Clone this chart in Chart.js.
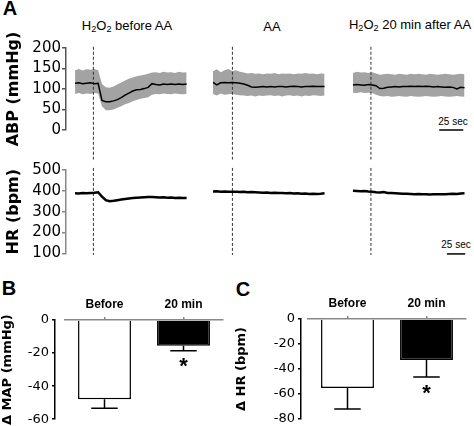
<!DOCTYPE html>
<html lang="en">
<head>
<meta charset="UTF-8">
<title>H2O2 responses before and after AA</title>
<script src="https://cdn.jsdelivr.net/npm/chart.js"></script>
<style>
    html, body { margin: 0; padding: 0; background: #fff; overflow: hidden; }
    body { width: 474px; height: 426px; position: relative; font-family: 'Liberation Sans', Arial, sans-serif; color: #000; }
    canvas { position: absolute; }
    .txt { position: absolute; line-height: 1; white-space: nowrap; transform: translate(-50%, -50%); }
    .letter { font-size: 20px; font-weight: bold; }
    .cond { font-size: 13px; }
    .sec { font-size: 10px; }
    sub { font-size: 70%; vertical-align: -0.3em; line-height: 0; }
</style>
</head>
<body>
    <div class="txt letter" style="left:10px; top:8px;">A</div>
    <div class="txt letter" style="left:9px; top:288px;">B</div>
    <div class="txt letter" style="left:243px; top:289px;">C</div>

    <div class="txt cond" style="left:127px; top:25px;">H<sub>2</sub>O<sub>2</sub> before AA</div>
    <div class="txt cond" style="left:272px; top:26px;">AA</div>
    <div class="txt cond" style="left:410px; top:24px;">H<sub>2</sub>O<sub>2</sub> 20 min after AA</div>

    <div class="txt sec" style="left:453px; top:122px;">25 sec</div>
    <div class="txt sec" style="left:456px; top:245px;">25 sec</div>

    <canvas id="abpChart" style="left:0; top:0;" width="474" height="165"></canvas>
    <canvas id="hrChart" style="left:0; top:160px;" width="474" height="115"></canvas>
    <canvas id="mapBar" style="left:0; top:270px;" width="234" height="160"></canvas>
    <canvas id="hrBar" style="left:234px; top:270px;" width="240" height="160"></canvas>

<script>
    // recording time: each trace segment starts at segStart (s), samples every 4 s
    const segStart = [9.4, 152.8, 298.3];
    const injectAt = [28.5, 173, 317];
    const relTime = [0, 4, 8, 12, 16, 20, 24, 28, 32, 36, 40, 44, 48, 52, 56, 60, 64, 68, 72, 76, 80, 84, 88, 92, 96, 100, 104, 108, 112, 116];

    // ABP (mmHg): mean trace and pulsatile envelope
    const abpMean1 = [114, 115, 113, 114, 115, 113, 114, 72, 69, 69, 71, 74, 79, 85, 90, 95, 98, 99, 101, 104, 113, 111, 110, 112, 111, 112, 111, 112, 111, 112];
    const abpHigh1 = [146, 149, 145, 148, 147, 149, 146, 112, 104, 103, 106, 111, 116, 121, 125, 128, 131, 133, 135, 137, 140, 141, 139, 142, 140, 141, 139, 142, 140, 141];
    const abpLow1 = [88, 90, 87, 89, 88, 90, 89, 58, 48, 48, 50, 54, 58, 63, 66, 70, 73, 76, 78, 80, 86, 88, 87, 89, 88, 87, 89, 88, 87, 88];

    const abpMean2 = [116, 110, 115, 116, 115, 116, 115, 114, 112, 109, 105, 104, 105, 106, 105, 106, 105, 106, 106, 105, 106, 107, 106, 105, 106, 106, 107, 106, 106, 106];
    const abpHigh2 = [143, 148, 141, 146, 149, 144, 146, 142, 140, 138, 139, 137, 138, 136, 138, 137, 139, 136, 138, 137, 138, 136, 138, 137, 139, 137, 138, 136, 138, 137];
    const abpLow2 = [88, 84, 89, 86, 87, 88, 86, 85, 84, 83, 84, 82, 84, 83, 84, 85, 83, 84, 82, 84, 85, 83, 84, 82, 84, 83, 85, 84, 83, 84];

    const abpMean3 = [110, 111, 110, 109, 111, 110, 108, 101, 102, 104, 105, 106, 105, 106, 106, 107, 106, 107, 106, 107, 106, 105, 106, 105, 104, 105, 104, 100, 104, 103];
    const abpHigh3 = [139, 142, 140, 141, 139, 141, 138, 135, 136, 137, 136, 135, 137, 136, 135, 137, 136, 137, 136, 135, 137, 136, 135, 136, 137, 136, 135, 136, 137, 136];
    const abpLow3 = [91, 90, 92, 90, 91, 90, 86, 83, 82, 83, 81, 82, 83, 82, 81, 83, 82, 81, 82, 83, 82, 81, 82, 83, 82, 81, 82, 83, 82, 81];

    // HR (bpm)
    const hr1 = [388, 387, 389, 388, 390, 391, 393, 372, 355, 350, 352, 355, 358, 361, 363, 365, 367, 368, 369, 370, 370, 369, 368, 369, 367, 368, 366, 367, 366, 365];
    const hr2 = [397, 398, 396, 397, 396, 395, 396, 394, 395, 393, 394, 393, 392, 391, 392, 390, 391, 389, 390, 388, 389, 387, 388, 386, 387, 385, 386, 385, 386, 388];
    const hr3 = [400, 399, 398, 399, 397, 396, 393, 392, 394, 390, 389, 388, 387, 386, 386, 385, 384, 385, 383, 384, 382, 383, 384, 383, 384, 385, 386, 385, 387, 388];

    // scale bars (s)
    const abpBarStart = 388, abpBarSec = 25;
    const hrBarStart = 396, hrBarSec = 19;

    // summary bars
    const groups = ['Before', '20 min'];
    const mapMeans = [-48, -15.6];
    const mapSem = [5.4, 3];
    const hrMeans = [-55.2, -32.8];
    const hrSem = [16.8, 13.6];
    const stars = ['', '*'];

    const tickFont = { family: 'DejaVu Sans', size: 15 };
    const axisTitleFont = { family: 'DejaVu Sans', size: 16, weight: 'bold' };

    function pts(seg, vals) {
        return vals.map((v, i) => ({ x: segStart[seg] + relTime[i], y: v }));
    }

    function traceLine(data, width) {
        return { data: data, borderColor: '#000', borderWidth: width, pointRadius: 0, tension: 0, fill: false };
    }

    function dashLine(x, yTop, yBottom) {
        return {
            data: [{ x: x, y: yTop }, { x: x, y: yBottom }],
            borderColor: '#333', borderWidth: 1, borderDash: [3, 2],
            pointRadius: 0, fill: false, clip: false
        };
    }

    function scaleBar(x0, len, y) {
        return {
            data: [{ x: x0, y: y }, { x: x0 + len, y: y }],
            borderColor: '#000', borderWidth: 1.5, pointRadius: 0, fill: false, clip: false
        };
    }

    function traceOptions(yMin, yMax, step, title, axisColor, pad) {
        return {
            responsive: false,
            animation: false,
            layout: { padding: pad },
            plugins: { legend: { display: false }, tooltip: { enabled: false } },
            scales: {
                x: { type: 'linear', min: 0, max: 420, display: false },
                y: {
                    min: yMin, max: yMax,
                    afterFit: function (scale) { scale.width = 66; },
                    ticks: { stepSize: step, autoSkip: false, font: tickFont, color: '#000', padding: 1 },
                    grid: { drawOnChartArea: false, tickLength: 4, color: axisColor, lineWidth: 1.5 },
                    border: { color: axisColor, width: 1.5 },
                    title: { display: true, text: title, font: axisTitleFont, color: '#000', padding: { top: 4, bottom: 4 } }
                }
            }
        };
    }

    // ABP traces (first dataset drawn on top)
    const abpSets = [];
    [abpMean1, abpMean2, abpMean3].forEach((m, s) => abpSets.push(traceLine(pts(s, m), 1.5)));
    injectAt.forEach(x => abpSets.push(dashLine(x, 203, -72)));
    abpSets.push(scaleBar(abpBarStart, abpBarSec, 0));
    [[abpHigh1, abpLow1], [abpHigh2, abpLow2], [abpHigh3, abpLow3]].forEach((band, s) => {
        abpSets.push({ data: pts(s, band[0]), borderWidth: 0, pointRadius: 0, tension: 0,
                       fill: '+1', backgroundColor: '#a3a3a3' });
        abpSets.push({ data: pts(s, band[1]), borderWidth: 0, pointRadius: 0, tension: 0, fill: false });
    });

    new Chart(document.getElementById('abpChart'), {
        type: 'line',
        data: { datasets: abpSets },
        options: traceOptions(0, 200, 50, 'ABP (mmHg)', '#555', { top: 48, bottom: 35, left: 0, right: 4 })
    });

    // HR traces
    const hrSets = [];
    [hr1, hr2, hr3].forEach((h, s) => hrSets.push(traceLine(pts(s, h), 2.5)));
    injectAt.forEach(x => hrSets.push(dashLine(x, 510, 92)));
    hrSets.push(scaleBar(hrBarStart, hrBarSec, 97));

    new Chart(document.getElementById('hrChart'), {
        type: 'line',
        data: { datasets: hrSets },
        options: traceOptions(100, 500, 100, 'HR (bpm)', '#888', { top: 10, bottom: 21.7, left: 0, right: 4 })
    });

    // error bars + significance marks for the summary bars
    const errorBars = {
        id: 'errorBars',
        afterDatasetsDraw(chart, args, opts) {
            const ctx = chart.ctx;
            const y = chart.scales.y;
            const meta = chart.getDatasetMeta(0);
            ctx.save();
            ctx.strokeStyle = '#000';
            ctx.lineWidth = 1.5;
            meta.data.forEach((bar, i) => {
                const y0 = y.getPixelForValue(opts.means[i]);
                const y1 = y.getPixelForValue(opts.means[i] - opts.errs[i]);
                const half = bar.width / 4;
                ctx.beginPath();
                ctx.moveTo(bar.x, y0);
                ctx.lineTo(bar.x, y1);
                ctx.moveTo(bar.x - half, y1);
                ctx.lineTo(bar.x + half, y1);
                ctx.stroke();
                if (opts.stars[i]) {
                    ctx.fillStyle = '#000';
                    ctx.font = 'bold 22px "Liberation Sans", Arial';
                    ctx.textAlign = 'center';
                    ctx.textBaseline = 'alphabetic';
                    ctx.fillText(opts.stars[i], bar.x, y1 + 22.5);
                }
            });
            ctx.restore();
        }
    };

    function barOptions(yMin, title, axisW, spacerW, means, errs, pad) {
        return {
            responsive: false,
            animation: false,
            layout: { padding: pad },
            plugins: {
                legend: { display: false }, tooltip: { enabled: false },
                errorBars: { means: means, errs: errs, stars: stars }
            },
            scales: {
                x: {
                    position: 'top',
                    afterFit: function (scale) { scale.height = 24; },
                    ticks: { font: { family: 'Liberation Sans', size: 12, weight: 'bold' }, color: '#000', padding: 5 },
                    grid: { drawOnChartArea: false, offset: false, tickLength: 3, color: '#888', lineWidth: 1.5 },
                    border: { color: '#888', width: 1.5 }
                },
                y: {
                    min: yMin, max: 0, weight: 1,
                    afterFit: function (scale) { scale.width = axisW; },
                    ticks: { stepSize: 20, autoSkip: false, font: { family: 'DejaVu Sans', size: 13 }, color: '#000', padding: 3 },
                    grid: { drawOnChartArea: false, tickLength: 3, color: '#000', lineWidth: 1.5 },
                    border: { color: '#000', width: 1.5 },
                    title: { display: true, text: title, font: { family: 'DejaVu Sans', size: 13, weight: 'bold' }, color: '#000', padding: 0 }
                },
                gap: {
                    type: 'linear', position: 'left', weight: 0,
                    afterFit: function (scale) { scale.width = spacerW; },
                    ticks: { display: false }, grid: { display: false }, border: { display: false }
                }
            }
        };
    }

    function barData(means) {
        return {
            labels: groups,
            datasets: [{
                data: means,
                backgroundColor: ['#fff', '#000'],
                borderColor: '#000',
                borderWidth: 1.5,
                barPercentage: 0.67,
                categoryPercentage: 1
            }]
        };
    }

    new Chart(document.getElementById('mapBar'), {
        type: 'bar',
        data: barData(mapMeans),
        options: barOptions(-60, '\u0394 MAP (mmHg)', 55, 10, mapMeans, mapSem, { top: 26, bottom: 10, left: 0, right: 11 }),
        plugins: [errorBars]
    });

    new Chart(document.getElementById('hrBar'), {
        type: 'bar',
        data: barData(hrMeans),
        options: barOptions(-80, '\u0394 HR (bpm)', 67, 7, hrMeans, hrSem, { top: 25, bottom: 11, left: 0, right: 8 }),
        plugins: [errorBars]
    });
</script>
</body>
</html>
